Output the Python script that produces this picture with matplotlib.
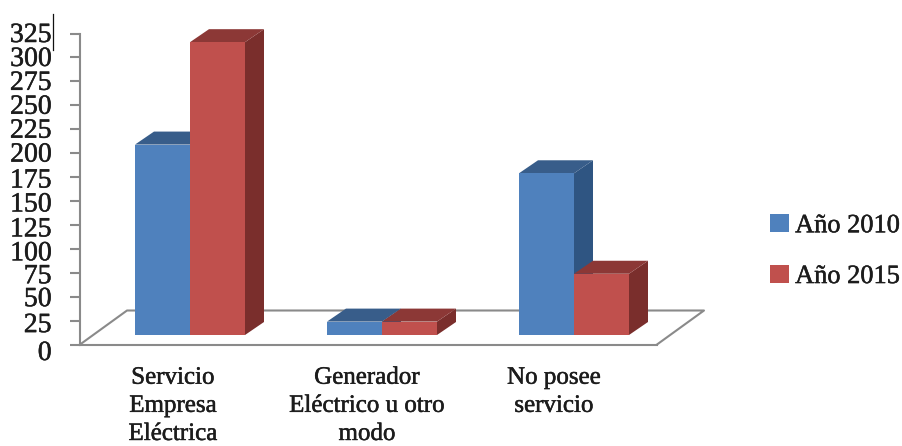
import matplotlib
matplotlib.use("Agg")
import matplotlib.pyplot as plt
import matplotlib.patheffects as pe
from matplotlib.lines import Line2D
from matplotlib.patches import Patch, Polygon
from matplotlib.transforms import ScaledTranslation

categorias = ["Servicio\nEmpresa\nEléctrica", "Generador\nEléctrico u otro\nmodo", "No posee\nservicio"]
anio_2010 = [199, 14, 169]
anio_2015 = [306, 14, 64]
ticks_y = list(range(0, 326, 25))
desfase_etiquetas = [6, 2, 0, 1, 2, 2, 1, 1, -1, -1, -1, -1, -1, -1]

plt.rcParams["font.family"] = ["Liberation Serif", "DejaVu Serif"]

W, H = 903, 446
fig = plt.figure(figsize=(W / 100, H / 100), dpi=100, facecolor="white")

# caja de ejes en pixeles de la imagen
x0, x1 = 80, 657
y_cero, y_top = 344.5, 33.5
ax = fig.add_axes([x0 / W, 1 - y_cero / H, (x1 - x0) / W, (y_cero - y_top) / H])

px_x = 192.0  # pixeles por categoria
px_y = (y_cero - y_top) / 325
ax.set_xlim((x0 - 190) / px_x, (x1 - 190) / px_x)
ax.set_ylim(0, 325)

ancho = 55 / px_x
fondo_x = 19 / px_x
fondo_y = 13 / px_y
base = 9.5 / px_y

GRIS = "#8a8a8a"
TEXTO = "#1c1c1c"
trazo = [pe.withStroke(linewidth=0.35, foreground=TEXTO)]
for lado in ("top", "right"):
    ax.spines[lado].set_visible(False)
for lado in ("left", "bottom"):
    ax.spines[lado].set_color(GRIS)
    ax.spines[lado].set_linewidth(1.5)

# piso en perspectiva
pf_x = 47 / px_x
pf_y = 34 / px_y
xa, xb = ax.get_xlim()
ax.add_line(Line2D([xa, xa + pf_x, xb + pf_x, xb], [0, pf_y, pf_y, 0],
                   color=GRIS, lw=1.5, clip_on=False, zorder=1))


def barra_3d(x, valor, frente, arriba, lateral, z):
    der = x + ancho
    techo = base + valor
    ax.add_patch(Polygon([(der, base), (der + fondo_x, base + fondo_y),
                          (der + fondo_x, techo + fondo_y), (der, techo)],
                         facecolor=lateral, edgecolor="none", clip_on=False, zorder=z))
    ax.add_patch(Polygon([(x, techo), (x + fondo_x, techo + fondo_y),
                          (der + fondo_x, techo + fondo_y), (der, techo)],
                         facecolor=arriba, edgecolor="none", clip_on=False, zorder=z))
    ax.bar(x, valor, width=ancho, bottom=base, align="edge", color=frente, zorder=z, clip_on=False)


AZUL = ("#4f81bd", "#385d8a", "#2f5582")
ROJO = ("#c0504d", "#8c3836", "#7a2e2c")
for i in range(len(categorias)):
    barra_3d(i - ancho, anio_2010[i], *AZUL, z=3 + i)
    barra_3d(i, anio_2015[i], *ROJO, z=3.5 + i)

# eje y
ax.set_yticks(ticks_y)
ax.set_yticklabels([str(v) for v in ticks_y], fontsize=20, color=TEXTO, path_effects=trazo)
ax.tick_params(axis="y", length=7, width=1.5, color=GRIS, pad=13.5)
for etiqueta, d in zip(ax.get_yticklabels(), desfase_etiquetas):
    etiqueta.set_transform(etiqueta.get_transform() + ScaledTranslation(0, -d / 100, fig.dpi_scale_trans))

# eje x
ax.set_xticks(range(len(categorias)))
ax.set_xticklabels(categorias, fontsize=18, color=TEXTO, linespacing=1.36, path_effects=trazo)
ax.tick_params(axis="x", length=0, pad=16)
for etiqueta, d in zip(ax.get_xticklabels(), [-17, -15, -20]):
    etiqueta.set_transform(etiqueta.get_transform() + ScaledTranslation(d / 100, 0, fig.dpi_scale_trans))

# leyenda
handles = [Patch(facecolor=AZUL[0], label="Año 2010"), Patch(facecolor=ROJO[0], label="Año 2015")]
ley = fig.legend(handles=handles, frameon=False, fontsize=19, labelcolor=TEXTO,
                 loc="center left", bbox_to_anchor=(765 / W, 1 - 251 / H),
                 handlelength=0.72, handleheight=0.68, handletextpad=0.22, labelspacing=1.04,
                 borderpad=0.2, borderaxespad=0)
for t in ley.get_texts():
    t.set_path_effects(trazo)

# cursor de texto que quedo en la captura
fig.add_artist(Line2D([53 / W, 53 / W], [1 - 14 / H, 1 - 50 / H], color="#111111", lw=0.9))

fig.savefig("out.png", dpi=100)
plt.close(fig)
